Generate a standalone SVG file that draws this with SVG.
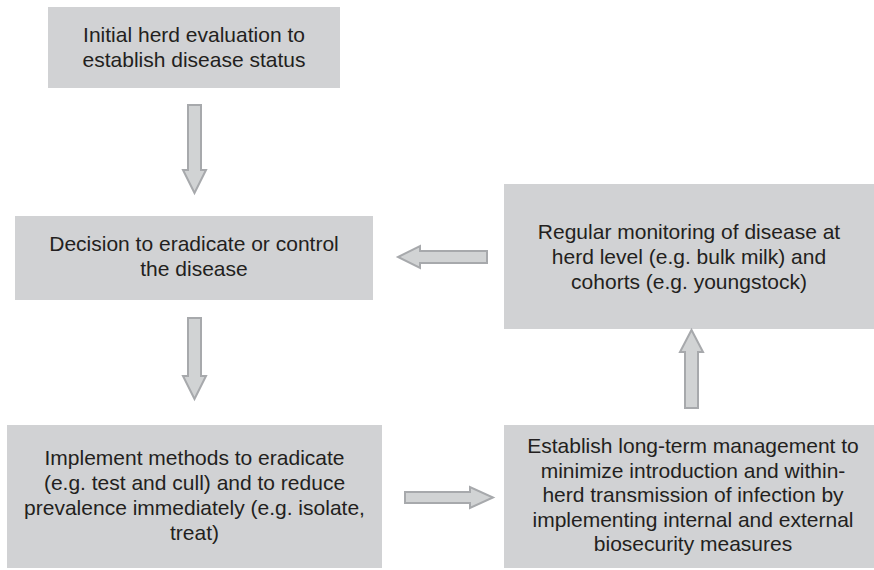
<svg xmlns="http://www.w3.org/2000/svg" width="874" height="570" viewBox="0 0 874 570">
  <style>
    .box { fill: #d1d2d4; }
    .lbl { font-family: "Liberation Sans", Arial, sans-serif; font-size: 21px; fill: #231f20; text-anchor: middle; }
    .arrow { fill: #d1d3d4; stroke: #a7a9ac; stroke-width: 2; stroke-linejoin: miter; }
  </style>
  <rect width="874" height="570" fill="#ffffff"/>

  <g id="initial-evaluation">
    <rect class="box" x="48" y="7" width="292" height="81"/>
    <text class="lbl" x="194" y="42">Initial herd evaluation to</text>
    <text class="lbl" x="194" y="67">establish disease status</text>
  </g>

  <g id="decision">
    <rect class="box" x="15" y="216" width="358" height="84"/>
    <text class="lbl" x="194" y="251">Decision to eradicate or control</text>
    <text class="lbl" x="194" y="276">the disease</text>
  </g>

  <g id="monitoring">
    <rect class="box" x="504" y="184" width="370" height="145"/>
    <text class="lbl" x="689" y="238.5">Regular monitoring of disease at</text>
    <text class="lbl" x="689" y="263.5">herd level (e.g. bulk milk) and</text>
    <text class="lbl" x="689" y="288.5">cohorts (e.g. youngstock)</text>
  </g>

  <g id="implement">
    <rect class="box" x="7" y="425" width="375" height="143"/>
    <text class="lbl" x="194.5" y="465">Implement methods to eradicate</text>
    <text class="lbl" x="194.5" y="490">(e.g. test and cull) and to reduce</text>
    <text class="lbl" x="194.5" y="515">prevalence immediately (e.g. isolate,</text>
    <text class="lbl" x="194.5" y="540">treat)</text>
  </g>

  <g id="long-term-management">
    <rect class="box" x="504" y="425" width="370" height="143"/>
    <text class="lbl" x="693" y="453">Establish long-term management to</text>
    <text class="lbl" x="693" y="477.5">minimize introduction and within-</text>
    <text class="lbl" x="693" y="502">herd transmission of infection by</text>
    <text class="lbl" x="693" y="526.5">implementing internal and external</text>
    <text class="lbl" x="693" y="551">biosecurity measures</text>
  </g>

  <g id="connectors">
    <!-- initial evaluation -> decision -->
    <path class="arrow" d="M188,105 H201 V170 H206 L194.5,193 L183,170 H188 Z"/>
    <!-- decision -> implement -->
    <path class="arrow" d="M188,318 H201 V376 H206 L194.5,399 L183,376 H188 Z"/>
    <!-- implement -> long-term management -->
    <path class="arrow" d="M405,492 H470 V487 L493,497.5 L470,508 V503 H405 Z"/>
    <!-- long-term management -> monitoring -->
    <path class="arrow" d="M685,408 V352 H680 L691.5,330 L703,352 H698 V408 Z"/>
    <!-- monitoring -> decision -->
    <path class="arrow" d="M487,251 H420 V246 L398,257 L420,268 V263 H487 Z"/>
  </g>
</svg>
